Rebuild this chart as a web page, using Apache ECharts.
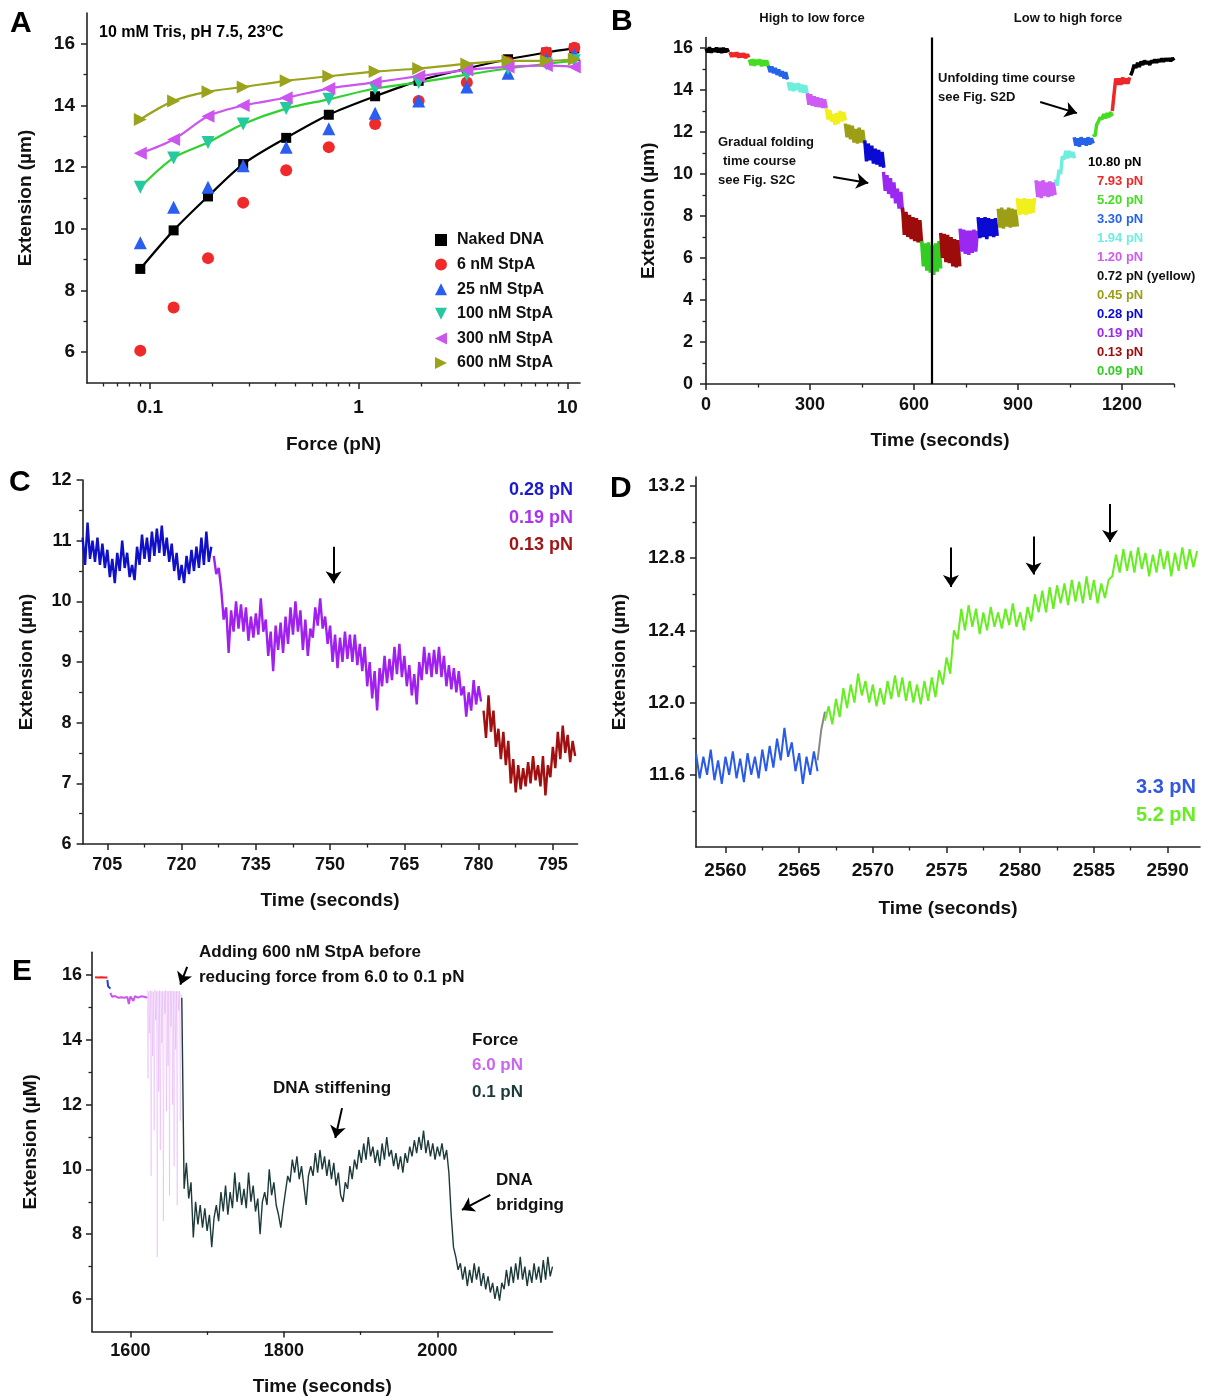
<!DOCTYPE html>
<html>
<head>
<meta charset="utf-8">
<title>StpA force-extension and time courses</title>
<script src="https://cdn.jsdelivr.net/npm/echarts@6.0.0/dist/echarts.min.js"></script>
<style>
  html, body { margin: 0; padding: 0; background: #fff; }
  #main { width: 1220px; height: 1400px; }
</style>
</head>
<body>
<div id="main"></div>
<script>
var FONT = '"Liberation Sans", Arial, Helvetica, sans-serif';

/* ---------- Panel A : force-extension curves ---------- */
var aForces = [0.09, 0.13, 0.19, 0.28, 0.45, 0.72, 1.20, 1.94, 3.30, 5.20, 7.93, 10.80];
var aNames = ['Naked DNA', '6 nM StpA', '25 nM StpA', '100 nM StpA', '300 nM StpA', '600 nM StpA'];
var aNaked = [8.7, 9.95, 11.05, 12.1, 12.95, 13.7, 14.3, 14.8, 15.2, 15.5, 15.72, 15.85];
var aStpA6 = [6.05, 7.45, 9.05, 10.85, 11.9, 12.65, 13.4, 14.15, 14.75, 15.4, 15.72, 15.87];
var aStpA25 = [9.55, 10.7, 11.35, 12.05, 12.65, 13.25, 13.75, 14.15, 14.6, 15.05, 15.5, 15.65];
var aStpA100 = [11.35, 12.3, 12.8, 13.4, 13.9, 14.2, 14.55, 14.75, 15.0, 15.2, 15.35, 15.45];
var aStpA300 = [12.45, 12.9, 13.65, 14.0, 14.25, 14.55, 14.75, 14.95, 15.15, 15.25, 15.3, 15.25];
var aStpA600 = [13.55, 14.15, 14.45, 14.6, 14.8, 14.95, 15.1, 15.2, 15.35, 15.45, 15.45, 15.5];
var aXMajor = [0.1, 1, 10];
var aXMinor = [0.06, 0.07, 0.08, 0.09, 0.2, 0.3, 0.4, 0.5, 0.6, 0.7, 0.8, 0.9, 2, 3, 4, 5, 6, 7, 8, 9];
var aYMajor = [6, 8, 10, 12, 14, 16];
var aYMinor = [7, 9, 11, 13, 15];

/* ---------- Panel B : full force-jump time course (5 s samples) ---------- */
var bSegForce = ['10.80', '7.93', '5.20', '3.30', '1.94', '1.20', '0.72', '0.45', '0.28', '0.19', '0.13', '0.09',
                 '0.13', '0.19', '0.28', '0.45', '0.72', '1.20', '1.94', '3.30', '5.20', '7.93', '10.80'];
var bSegStart = [0, 69, 125, 180, 237, 292, 347, 402, 458, 512, 567, 622,
                 677, 733, 785, 843, 898, 952, 1008, 1062, 1117, 1172, 1225];
var bSegValues = [
    [15.98, 15.8, 16.03, 15.78, 15.97, 15.82, 16.02, 15.79, 15.99, 15.77, 16.01, 15.8, 15.96, 15.81],
    [15.8, 15.58, 15.77, 15.6, 15.79, 15.54, 15.74, 15.56, 15.75, 15.52, 15.7, 15.55],
    [15.45, 15.18, 15.47, 15.15, 15.44, 15.2, 15.46, 15.13, 15.42, 15.16, 15.4, 15.12],
    [15.15, 14.85, 15.12, 14.8, 15.05, 14.72, 14.98, 14.65, 14.9, 14.55, 14.85, 14.5],
    [14.38, 13.98, 14.35, 13.95, 14.3, 14.0, 14.32, 13.9, 14.25, 13.88, 14.22, 13.85],
    [13.85, 13.3, 13.8, 13.25, 13.7, 13.2, 13.65, 13.18, 13.6, 13.15, 13.55, 13.12],
    [13.15, 12.6, 13.05, 12.5, 12.85, 12.35, 12.9, 12.4, 13.0, 12.5, 12.95, 12.55],
    [12.4, 11.75, 12.35, 11.65, 12.3, 11.5, 12.15, 11.45, 12.2, 11.5, 12.1, 11.45],
    [11.6, 10.6, 11.45, 10.65, 11.35, 10.5, 11.2, 10.45, 11.15, 10.35, 11.05, 10.3],
    [10.1, 9.2, 9.95, 9.05, 9.8, 8.85, 9.6, 8.6, 9.3, 8.35, 9.15, 8.2],
    [8.4, 7.1, 8.2, 7.0, 8.05, 6.9, 7.95, 6.8, 7.9, 6.75, 7.8, 6.7],
    [6.8, 5.6, 6.7, 5.4, 6.75, 5.3, 6.6, 5.2, 6.7, 5.35, 6.8, 5.5],
    [7.2, 6.0, 7.15, 5.8, 7.1, 5.75, 7.0, 5.6, 6.9, 5.55, 6.85, 5.6],
    [7.4, 6.3, 7.35, 6.2, 7.3, 6.15, 7.3, 6.25, 7.35, 6.3, 7.3],
    [7.95, 6.95, 7.9, 7.0, 7.95, 6.9, 7.9, 7.05, 7.85, 7.0, 7.9, 7.05],
    [8.35, 7.45, 8.4, 7.4, 8.3, 7.5, 8.4, 7.45, 8.35, 7.5, 8.3, 7.5],
    [8.85, 8.05, 8.8, 8.1, 8.85, 8.05, 8.8, 8.1, 8.8, 8.15, 8.85],
    [9.7, 8.9, 9.65, 8.85, 9.7, 8.95, 9.6, 8.9, 9.65, 8.95, 9.6, 9.0],
    [9.75, 9.45, 10.2, 10.0, 10.85, 10.7, 11.1, 10.75, 11.1, 10.8, 11.05, 10.75],
    [11.75, 11.35, 11.7, 11.3, 11.75, 11.4, 11.7, 11.35, 11.75, 11.4, 11.7, 11.45],
    [11.9, 11.8, 12.35, 12.5, 12.7, 12.6, 12.85, 12.65, 12.9, 12.7, 12.95, 12.75],
    [13.0, 13.8, 14.55, 14.25, 14.55, 14.25, 14.6, 14.3, 14.55, 14.3, 14.6],
    [14.7, 14.9, 15.2, 15.05, 15.3, 15.1, 15.35, 15.2, 15.4, 15.25, 15.35, 15.2, 15.4,
     15.3, 15.45, 15.3, 15.45, 15.35, 15.5, 15.35, 15.5, 15.4, 15.5, 15.38, 15.52, 15.4]
];
var bStep = 5;
var bLegendForces = ['10.80', '7.93', '5.20', '3.30', '1.94', '1.20', '0.72', '0.45', '0.28', '0.19', '0.13', '0.09'];
var bFlipTime = 652;
var bXMajor = [0, 300, 600, 900, 1200];
var bXMinor = [150, 450, 750, 1050, 1350];
var bYMajor = [0, 2, 4, 6, 8, 10, 12, 14, 16];
var bYMinor = [1, 3, 5, 7, 9, 11, 13, 15];

/* ---------- Panel C : gradual folding (0.5 s samples) ---------- */
var cStep = 0.5;
var cBlueStart = 700;
var cBlue = [11.05, 10.6, 11.3, 10.7, 11.0, 10.65, 11.05, 10.6, 10.95, 10.55, 10.85, 10.4, 10.7, 10.3,
    10.8, 10.5, 11.0, 10.55, 10.8, 10.4, 10.6, 10.35, 10.9, 10.6, 11.1, 10.7, 11.05, 10.65, 11.15, 10.75,
    11.2, 10.8, 11.25, 10.75, 11.05, 10.65, 10.95, 10.5, 10.8, 10.35, 10.6, 10.3, 10.75, 10.45, 10.85,
    10.5, 10.9, 10.55, 11.05, 10.6, 11.15, 10.65, 10.9];
var cPurpleStart = 726.5;
var cPurple = [10.75, 10.45, 10.55, 10.2, 9.7, 9.9, 9.15, 9.85, 9.5, 10.0, 9.55, 9.95, 9.5, 9.9, 9.35,
    9.75, 9.4, 9.8, 9.45, 10.05, 9.5, 9.7, 9.1, 9.5, 8.85, 9.6, 9.2, 9.65, 9.15, 9.75, 9.3, 9.9, 9.45,
    10.0, 9.5, 9.85, 9.2, 9.7, 9.1, 9.55, 9.4, 9.9, 9.6, 10.05, 9.55, 9.75, 9.3, 9.6, 9.0, 9.45, 8.9,
    9.4, 9.0, 9.5, 9.05, 9.45, 9.0, 9.45, 8.95, 9.3, 8.85, 9.25, 8.6, 9.0, 8.4, 8.85, 8.2, 8.9, 8.6,
    9.1, 8.65, 9.05, 8.7, 9.25, 8.8, 9.3, 8.75, 9.1, 8.6, 8.95, 8.45, 8.8, 8.3, 9.0, 8.7, 9.25, 8.8,
    9.15, 8.75, 9.2, 8.8, 9.25, 8.75, 9.1, 8.6, 8.95, 8.55, 8.9, 8.5, 8.85, 8.45, 8.6, 8.1, 8.5, 8.2,
    8.7, 8.3, 8.6, 8.35];
var cRedStart = 781;
var cRed = [8.2, 7.75, 8.45, 7.85, 8.2, 7.6, 7.9, 7.4, 7.85, 7.3, 7.7, 7.0, 7.4, 6.85, 7.3, 6.9, 7.25,
    6.95, 7.35, 7.0, 7.45, 7.05, 7.3, 6.95, 7.45, 6.8, 7.3, 7.1, 7.6, 7.25, 7.85, 7.4, 7.95, 7.5, 7.8,
    7.35, 7.7, 7.45];
var cArrow = [[750.7, 10.9], [750.7, 10.3]];
var cXMajor = [705, 720, 735, 750, 765, 780, 795];
var cXMinor = [712.5, 727.5, 742.5, 757.5, 772.5, 787.5];
var cYMajor = [6, 7, 8, 9, 10, 11, 12];
var cYMinor = [6.5, 7.5, 8.5, 9.5, 10.5, 11.5];

/* ---------- Panel D : unfolding steps (0.25 s samples) ---------- */
var dStep = 0.25;
var dBlueStart = 2558;
var dBlue = [11.72, 11.58, 11.7, 11.6, 11.74, 11.57, 11.68, 11.55, 11.7, 11.6, 11.73, 11.58, 11.69,
    11.56, 11.72, 11.6, 11.7, 11.58, 11.74, 11.62, 11.76, 11.64, 11.8, 11.68, 11.86, 11.7, 11.78, 11.62,
    11.72, 11.55, 11.7, 11.6, 11.73, 11.62];
var dGrayStart = 2566.25;
var dGray = [11.68, 11.85, 11.95];
var dGreenStart = 2566.75;
var dGreen = [11.9, 11.98, 11.88, 12.02, 11.92, 12.08, 11.97, 12.1, 12.0, 12.16, 12.04, 12.12, 12.0,
    12.1, 11.98, 12.08, 11.99, 12.12, 12.02, 12.15, 12.03, 12.14, 12.01, 12.12, 12.0, 12.1, 11.99, 12.12,
    12.01, 12.14, 12.03, 12.18, 12.1, 12.25, 12.16, 12.4, 12.35, 12.52, 12.4, 12.54, 12.42, 12.52, 12.38,
    12.5, 12.4, 12.53, 12.42, 12.5, 12.41, 12.52, 12.43, 12.55, 12.42, 12.5, 12.4, 12.53, 12.45, 12.6,
    12.5, 12.62, 12.5, 12.64, 12.52, 12.65, 12.55, 12.66, 12.54, 12.68, 12.56, 12.67, 12.55, 12.7, 12.57,
    12.68, 12.55, 12.66, 12.58, 12.68, 12.7, 12.82, 12.72, 12.85, 12.73, 12.84, 12.72, 12.86, 12.74,
    12.83, 12.7, 12.82, 12.72, 12.85, 12.74, 12.84, 12.7, 12.83, 12.73, 12.86, 12.74, 12.85, 12.75, 12.84];
var dArrows = [
    [[2575.3, 12.86], [2575.3, 12.64]],
    [[2580.9, 12.92], [2580.9, 12.71]],
    [[2586.1, 13.1], [2586.1, 12.89]]
];
var dXMajor = [2560, 2565, 2570, 2575, 2580, 2585, 2590];
var dXMinor = [2562.5, 2567.5, 2572.5, 2577.5, 2582.5, 2587.5];
var dYMajor = [11.6, 12.0, 12.4, 12.8, 13.2];
var dYMinor = [11.4, 11.8, 12.2, 12.6, 13.0];

/* ---------- Panel E : 600 nM StpA added at 6 pN, then 0.1 pN ---------- */
var eRedStart = 1554, eRedStep = 2;
var eRed = [15.93, 15.9, 15.92, 15.91, 15.93, 15.9, 15.92, 15.91, 15.92];
var eBlueStart = 1570, eBlueStep = 1;
var eBlue = [15.85, 15.65, 15.6, 15.62, 15.58];
var eMagStart = 1574, eMagStep = 2;
var eMag = [15.45, 15.33, 15.3, 15.35, 15.32, 15.3, 15.34, 15.31, 15.33, 15.3, 15.35, 15.32, 15.1,
    15.34, 15.33, 15.2, 15.35, 15.32, 15.3, 15.33, 15.34, 15.31, 15.33, 15.32, 15.3];
var eSpikeStart = 1622, eSpikeStep = 1;
var eSpike = [15.55, 12.8, 15.5, 14.2, 15.52, 9.8, 15.5, 13.5, 15.48, 11.2, 15.55, 14.6, 15.5, 7.3,
    15.5, 12.4, 15.52, 10.6, 15.5, 13.9, 15.5, 8.4, 15.5, 14.8, 15.53, 11.8, 15.5, 13.2, 15.5, 9.2,
    15.52, 14.4, 15.5, 12.0, 15.5, 10.1, 15.5, 13.7, 15.5, 8.9, 15.5, 14.9, 15.5, 11.5, 15.4, 15.3];
var eDarkStart = 1667, eDarkStep = 3;
var eDark = [15.3, 9.4, 10.2, 9.1, 9.6, 7.9, 9.0, 8.3, 8.9, 8.2, 8.8, 8.1, 8.6, 7.6, 8.5, 8.9, 8.4,
    9.3, 8.7, 9.5, 8.6, 9.3, 8.8, 9.9, 9.0, 9.6, 8.9, 9.4, 8.8, 9.9, 9.0, 9.5, 8.7, 9.1, 8.0, 9.0, 9.3,
    8.9, 10.0, 9.2, 9.6, 8.9, 8.6, 8.2, 8.8, 9.3, 9.8, 9.6, 10.3, 9.9, 10.4, 9.7, 10.1, 9.5, 8.9, 9.8,
    10.1, 9.8, 10.5, 9.9, 10.6, 10.0, 10.4, 9.8, 10.3, 9.7, 10.2, 9.5, 9.9, 9.2, 9.0, 9.6, 9.4, 10.1,
    9.7, 10.3, 10.0, 10.6, 10.2, 10.8, 10.3, 11.0, 10.4, 10.7, 10.2, 10.6, 10.1, 10.8, 10.3, 11.0, 10.4,
    10.6, 10.1, 10.5, 10.0, 10.4, 9.9, 10.5, 10.2, 10.7, 10.4, 10.9, 10.5, 11.0, 10.6, 11.2, 10.5, 10.9,
    10.4, 10.8, 10.3, 10.7, 10.4, 10.8, 10.3, 10.6, 9.9, 8.6, 7.6, 7.3, 6.9, 7.1, 6.6, 7.0, 6.4, 6.9,
    6.5, 7.1, 6.6, 7.0, 6.4, 6.8, 6.3, 6.7, 6.2, 6.5, 6.0, 6.4, 5.95, 6.5, 6.3, 6.9, 6.4, 7.0, 6.5, 7.1,
    6.6, 7.3, 6.6, 7.0, 6.4, 6.9, 6.5, 7.1, 6.6, 7.0, 6.5, 7.2, 6.6, 7.3, 6.7, 7.0];
var eArrows = [
    [[1674, 16.25], [1665, 15.7]],
    [[1875.8, 11.89], [1867, 10.97]],
    [[2069, 9.21], [2032, 8.75]]
];
var eXMajor = [1600, 1800, 2000];
var eXMinor = [1700, 1900, 2100];
var eYMajor = [6, 8, 10, 12, 14, 16];
var eYMinor = [7, 9, 11, 13, 15];

/* ---------- styles ---------- */
var forceColor = {
    '10.80': '#000000', '7.93': '#ee2828', '5.20': '#44dd22', '3.30': '#2563ea',
    '1.94': '#6eeedd', '1.20': '#cc5cf5', '0.72': '#f2f01c', '0.45': '#9c9e16',
    '0.28': '#0a0ad2', '0.19': '#9a28f0', '0.13': '#9e0b0b', '0.09': '#33cc22'
};
// icon: 图例用的图标 (旋转后的三角形用 path 画)
var aStyle = [
    {symbol: 'rect', size: 10, rotate: 0, color: '#000000', icon: 'rect'},
    {symbol: 'circle', size: 12, rotate: 0, color: '#f02a2a', icon: 'circle'},
    {symbol: 'triangle', size: 13, rotate: 0, color: '#2a5ef0', icon: 'path://M5,0L10,10L0,10Z'},
    {symbol: 'triangle', size: 13, rotate: 180, color: '#25c9a0', icon: 'path://M0,0L10,0L5,10Z'},
    {symbol: 'triangle', size: 13, rotate: 90, color: '#cc55ee', icon: 'path://M10,0L10,10L0,5Z'},
    {symbol: 'triangle', size: 13, rotate: -90, color: '#9aa31c', icon: 'path://M0,0L10,5L0,10Z'}
];

var option = {
    backgroundColor: '#ffffff',
    animation: false,
    grid: [
        {left: 87, top: 13, width: 493, height: 370},
        {left: 706, top: 37.5, width: 468, height: 346.5},
        {left: 82.6, top: 480, width: 495, height: 364},
        {left: 696, top: 477, width: 504, height: 370},
        {left: 92, top: 952.3, width: 460.5, height: 379.1}
    ],
    xAxis: [],
    yAxis: [],
    series: [],
    graphic: {elements: []}
};

function plainNumber(v) {
    return String(v);
}

/*
 * 创建坐标轴: 一根主轴(刻度+标签)和一根只画短刻度的副轴, 返回主轴的索引
 */
function addAxis(dir, grid, cfg) {
    var list = dir === 'x' ? option.xAxis : option.yAxis;
    var pos = dir === 'x' ? 'bottom' : 'left';
    var idx = list.length;
    list.push({
        type: cfg.type || 'value',
        gridIndex: grid,
        position: pos,
        min: cfg.min,
        max: cfg.max,
        name: cfg.name,
        nameLocation: 'middle',
        nameGap: cfg.nameGap,
        nameTextStyle: {fontFamily: FONT, fontSize: 19, fontWeight: 'bold', color: '#111'},
        axisLine: {show: true, onZero: false, lineStyle: {color: '#222', width: 1.6}},
        axisTick: {show: true, customValues: cfg.major, length: 6, lineStyle: {color: '#222', width: 1.5}},
        axisLabel: {
            customValues: cfg.major,
            formatter: cfg.fmt || plainNumber,
            margin: cfg.margin,
            fontFamily: FONT,
            fontSize: cfg.fontSize || 18,
            fontWeight: 'bold',
            color: '#111'
        },
        splitLine: {show: false}
    });
    list.push({
        type: cfg.type || 'value',
        gridIndex: grid,
        position: pos,
        min: cfg.min,
        max: cfg.max,
        axisLine: {show: false, onZero: false},
        axisTick: {show: true, customValues: cfg.minor, length: 3.5, lineStyle: {color: '#222', width: 1.3}},
        axisLabel: {show: false},
        splitLine: {show: false}
    });
    return idx;
}

// 时间序列: 起点 + 固定采样间隔
function addTrace(xi, yi, t0, dt, vals, color, width, opacity) {
    var data = vals.map(function (v, i) {
        return [t0 + i * dt, v];
    });
    var s = {
        type: 'line',
        xAxisIndex: xi,
        yAxisIndex: yi,
        data: data,
        symbol: 'none',
        showSymbol: false,
        silent: true,
        lineStyle: {color: color, width: width || 1.2, opacity: opacity == null ? 1 : opacity},
        z: 3
    };
    option.series.push(s);
    return s;
}

// 箭头 (数据坐标)
function addArrow(series, from, to) {
    if (!series.markLine) {
        series.markLine = {
            silent: true,
            symbol: ['none', 'arrow'],
            symbolSize: 12,
            lineStyle: {color: '#000', width: 2, type: 'solid'},
            label: {show: false},
            data: []
        };
    }
    series.markLine.data.push([{coord: from}, {coord: to}]);
}

function addText(str, x, y, size, color, align) {
    option.graphic.elements.push({
        type: 'text',
        x: x,
        y: y,
        silent: true,
        style: {
            text: str,
            font: 'bold ' + size + 'px ' + FONT,
            fill: color || '#111',
            textAlign: align || 'left',
            align: align || 'left',
            textVerticalAlign: 'middle',
            verticalAlign: 'middle'
        }
    });
}

/* ---------- A ---------- */
var ax = addAxis('x', 0, {type: 'log', min: 0.05, max: 11.5, major: aXMajor, minor: aXMinor,
    name: 'Force (pN)', nameGap: 52, margin: 15, fontSize: 19});
var ay = addAxis('y', 0, {min: 5, max: 17, major: aYMajor, minor: aYMinor,
    name: 'Extension (\u00b5m)', nameGap: 52, margin: 12, fontSize: 19});

var aAll = [aNaked, aStpA6, aStpA25, aStpA100, aStpA300, aStpA600];
var aFits = [[0, '#000000'], [3, '#2ed12e'], [4, '#cc55ee'], [5, '#9aa31c']];
aFits.forEach(function (f) {
    option.series.push({
        type: 'line', xAxisIndex: ax, yAxisIndex: ay, smooth: 0.3, symbol: 'none', silent: true,
        data: aForces.map(function (x, i) { return [x, aAll[f[0]][i]]; }),
        lineStyle: {color: f[1], width: 2.2}, z: 2
    });
});
aAll.forEach(function (vals, k) {
    option.series.push({
        type: 'scatter', name: aNames[k], xAxisIndex: ax, yAxisIndex: ay,
        symbol: aStyle[k].symbol, symbolSize: aStyle[k].size, symbolRotate: aStyle[k].rotate,
        itemStyle: {color: aStyle[k].color, opacity: 1},
        data: aForces.map(function (x, i) { return [x, vals[i]]; }),
        z: 4
    });
});
option.legend = {
    data: aNames.map(function (n, k) {
        return {name: n, icon: aStyle[k].icon, itemStyle: {color: aStyle[k].color}};
    }),
    orient: 'vertical', left: 430, top: 227, itemGap: 8.6,
    itemWidth: 12, itemHeight: 12, selectedMode: false,
    textStyle: {fontFamily: FONT, fontSize: 16, fontWeight: 'bold', color: '#111', padding: [0, 0, 0, 5]}
};

/* ---------- B ---------- */
var bx = addAxis('x', 1, {min: 0, max: 1350, major: bXMajor, minor: bXMinor,
    name: 'Time (seconds)', nameGap: 47, margin: 12});
var by = addAxis('y', 1, {min: 0, max: 16.5, major: bYMajor, minor: bYMinor,
    name: 'Extension (\u00b5m)', nameGap: 48, margin: 13});
var bSeries = [];
bSegValues.forEach(function (vals, k) {
    bSeries.push(addTrace(bx, by, bSegStart[k], bStep, vals, forceColor[bSegForce[k]], 3.5));
});
bSeries[0].markLine = {
    silent: true, symbol: 'none', label: {show: false},
    lineStyle: {color: '#000', width: 2.2, type: 'solid'},
    data: [{xAxis: bFlipTime}]
};
addArrow(bSeries[1], [367, 9.86], [468, 9.57]);
addArrow(bSeries[1], [964, 13.43], [1070, 12.9]);

/* ---------- C ---------- */
var cx = addAxis('x', 2, {min: 700, max: 800, major: cXMajor, minor: cXMinor,
    name: 'Time (seconds)', nameGap: 47, margin: 12});
var cy = addAxis('y', 2, {min: 6, max: 12, major: cYMajor, minor: cYMinor,
    name: 'Extension (\u00b5m)', nameGap: 46, margin: 11});
addTrace(cx, cy, cBlueStart, cStep, cBlue, '#1010c8', 2.4);
var cp = addTrace(cx, cy, cPurpleStart, cStep, cPurple, '#a020f0', 2.4);
addTrace(cx, cy, cRedStart, cStep, cRed, '#a01010', 2.4);
addArrow(cp, cArrow[0], cArrow[1]);

/* ---------- D ---------- */
var dx = addAxis('x', 3, {min: 2558, max: 2592.2, major: dXMajor, minor: dXMinor,
    name: 'Time (seconds)', nameGap: 52, margin: 14, fontSize: 19});
var dy = addAxis('y', 3, {min: 11.2, max: 13.25, major: dYMajor, minor: dYMinor,
    name: 'Extension (\u00b5m)', nameGap: 67, margin: 11, fontSize: 19,
    fmt: function (v) { return v.toFixed(1); }});
addTrace(dx, dy, dBlueStart, dStep, dBlue, '#2a5ae8', 2);
addTrace(dx, dy, dGrayStart, dStep, dGray, '#888888', 2);
var dg = addTrace(dx, dy, dGreenStart, dStep, dGreen, '#66ee22', 2);
dArrows.forEach(function (a) { addArrow(dg, a[0], a[1]); });

/* ---------- E ---------- */
var ex = addAxis('x', 4, {min: 1550, max: 2150, major: eXMajor, minor: eXMinor,
    name: 'Time (seconds)', nameGap: 46, margin: 11});
var ey = addAxis('y', 4, {min: 5, max: 16.7, major: eYMajor, minor: eYMinor,
    name: 'Extension (\u00b5M)', nameGap: 52, margin: 10});
addTrace(ex, ey, eRedStart, eRedStep, eRed, '#ee2222', 2);
addTrace(ex, ey, eBlueStart, eBlueStep, eBlue, '#2244cc', 2);
addTrace(ex, ey, eMagStart, eMagStep, eMag, '#cc55ee', 2);
addTrace(ex, ey, eSpikeStart, eSpikeStep, eSpike, '#cc66ee', 0.7, 0.35);
var ed = addTrace(ex, ey, eDarkStart, eDarkStep, eDark, '#1d3a3a', 1.4);
eArrows.forEach(function (a) { addArrow(ed, a[0], a[1]); });

/* ---------- texts ---------- */
addText('A', 10, 24, 30, '#000');
addText('B', 611, 22, 30, '#000');
addText('C', 9, 483, 30, '#000');
addText('D', 610, 489, 30, '#000');
addText('E', 12, 972, 30, '#000');

option.graphic.elements.push({
    type: 'text', x: 99, y: 33, silent: true,
    style: {
        text: '{b|10 mM Tris, pH 7.5, 23}{s|o}{b|C}',
        textVerticalAlign: 'middle', verticalAlign: 'middle',
        rich: {
            b: {fontFamily: FONT, fontSize: 16, fontWeight: 'bold', color: '#111', lineHeight: 22},
            s: {fontFamily: FONT, fontSize: 11, fontWeight: 'bold', color: '#111', lineHeight: 12, verticalAlign: 'top'}
        }
    }
});

addText('High to low force', 812, 18, 13, '#111', 'center');
addText('Low to high force', 1068, 18, 13, '#111', 'center');
addText('Gradual folding', 718, 142, 13);
addText('time course', 723, 161, 13);
addText('see Fig. S2C', 718, 180, 13);
addText('Unfolding time course', 938, 78, 13);
addText('see Fig. S2D', 938, 97, 13);
bLegendForces.forEach(function (f, i) {
    var label = f + ' pN' + (f === '0.72' ? ' (yellow)' : '');
    var col = f === '0.72' ? '#111' : forceColor[f];
    addText(label, f === '10.80' ? 1088 : 1097, 162 + i * 19, 13, col);
});

addText('0.28 pN', 573, 490, 18, '#1a1acc', 'right');
addText('0.19 pN', 573, 518, 18, '#aa33ee', 'right');
addText('0.13 pN', 573, 545, 18, '#a01515', 'right');

addText('3.3 pN', 1196, 787, 20, '#3358e0', 'right');
addText('5.2 pN', 1196, 815, 20, '#66ee22', 'right');

addText('Adding 600 nM StpA before', 199, 952, 17);
addText('reducing force from 6.0 to 0.1 pN', 199, 977, 17);
addText('Force', 472, 1040, 17);
addText('6.0 pN', 472, 1065, 17, '#cc66ee');
addText('0.1 pN', 472, 1092, 17, '#1d3a3a');
addText('DNA stiffening', 273, 1088, 17);
addText('DNA', 496, 1180, 17);
addText('bridging', 496, 1205, 17);

var chart = echarts.init(document.getElementById('main'), null, {renderer: 'canvas'});
chart.setOption(option);
</script>
</body>
</html>
